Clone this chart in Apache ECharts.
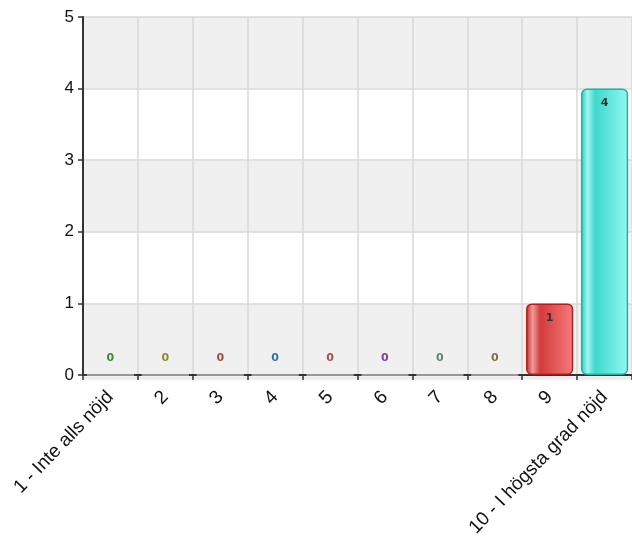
<!DOCTYPE html>
<html>
<head>
<meta charset="utf-8">
<script src="https://cdn.jsdelivr.net/npm/echarts@6/dist/echarts.min.js"></script>
<style>
  html, body { margin: 0; padding: 0; background: #fff; }
  #main { width: 632px; height: 542px; }
</style>
</head>
<body>
<div id="main"></div>
<script>
var categories = ['1 - Inte alls nöjd', '2', '3', '4', '5', '6', '7', '8', '9', '10 - I högsta grad nöjd'];
var values = [0, 0, 0, 0, 0, 0, 0, 0, 1, 4];
var labelColors = ['#3a8a3a', '#8c8c2c', '#9a5040', '#3a70a0', '#a05050', '#8040a0', '#5a8a70', '#807040', '#333333', '#333333'];
var yTicks = [0, 1, 2, 3, 4, 5];

// bar colours: [dark edge, highlight, body, light right side, border]
var barColors = {
  8: ['#c42a2a', '#ee9a9a', '#d23c3c', '#f77a7a', '#b02020'],
  9: ['#2cc6ba', '#a0f6ef', '#40d8cd', '#8ff9f2', '#22b0a6']
};

var myChart = echarts.init(document.getElementById('main'));

var dataItems = values.map(function (v, i) {
  var c = barColors[i] || ['#ccc', '#ddd', '#ccc', '#ddd', '#bbb'];
  return {
    value: v,
    itemStyle: {
      color: new echarts.graphic.LinearGradient(0, 0, 1, 0, [
        { offset: 0, color: c[0] },
        { offset: 0.14, color: c[1] },
        { offset: 0.3, color: c[2] },
        { offset: 1, color: c[3] }
      ]),
      borderColor: c[4],
      borderWidth: 1.5,
      borderRadius: 5
    },
    label: {
      show: true,
      position: v === 0 ? 'top' : 'insideTop',
      distance: v === 0 ? 11 : 9,
      color: labelColors[i],
      fontWeight: 'bold',
      fontSize: 11,
      fontFamily: 'DejaVu Sans'
    }
  };
});

var option = {
  animation: false,
  grid: {
    left: 83,
    right: -2,
    top: 17,
    bottom: 167,
    containLabel: false
  },
  xAxis: {
    type: 'category',
    data: categories,
    axisLine: {
      lineStyle: { color: '#333', width: 2, shadowColor: 'rgba(0,0,0,0.15)', shadowOffsetY: 3, shadowBlur: 3 }
    },
    axisTick: { show: true, length: 5, lineStyle: { color: '#333', width: 1.5 } },
    splitLine: { show: true, interval: 0, lineStyle: { color: '#d8d8d8', width: 1.5 } },
    axisLabel: {
      interval: 0,
      rotate: 46,
      margin: 19,
      color: '#111',
      fontSize: 19,
      fontFamily: 'Liberation Sans'
    }
  },
  yAxis: {
    type: 'value',
    min: 0,
    max: 5,
    interval: 1,
    axisLine: { show: true, lineStyle: { color: '#333', width: 2 } },
    axisTick: { show: true, length: 5, lineStyle: { color: '#333', width: 1.5 } },
    splitLine: { show: true, lineStyle: { color: '#d8d8d8', width: 1.5 } },
    splitArea: { show: true, areaStyle: { color: ['#f0f0f0', '#ffffff'] } },
    axisLabel: {
      margin: 9,
      color: '#111',
      fontSize: 17,
      fontFamily: 'Liberation Sans',
      formatter: function (v) { return yTicks.indexOf(v) >= 0 ? String(v) : ''; }
    }
  },
  series: [{
    type: 'bar',
    data: dataItems,
    barCategoryGap: '14%'
  }]
};

myChart.setOption(option);
window.onresize = myChart.resize;
</script>
</body>
</html>
